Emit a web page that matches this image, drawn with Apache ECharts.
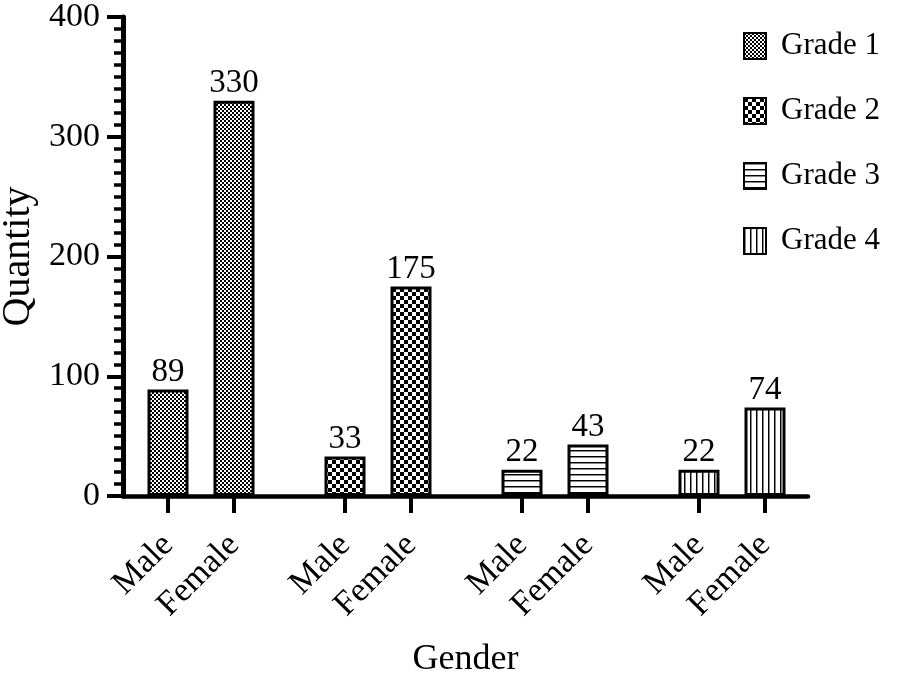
<!DOCTYPE html>
<html>
<head>
<meta charset="utf-8">
<script src="https://cdn.jsdelivr.net/npm/echarts@6/dist/echarts.min.js"></script>
<style>html,body{margin:0;padding:0;background:#fff;}#c{width:898px;height:682px;}</style>
</head>
<body>
<div id="c"></div>
<script>
const categories = ['Male', 'Female'];
const grades = ['Grade 1', 'Grade 2', 'Grade 3', 'Grade 4'];
const maleValues = [89, 33, 22, 22];
const femaleValues = [330, 175, 43, 74];
const yTicks = [0, 100, 200, 300, 400];

const FONT = '"Liberation Serif", "Times New Roman", serif';

function makePattern(type) {
  const c = document.createElement('canvas');
  let ctx;
  if (type === 0) {
    c.width = 4; c.height = 4; ctx = c.getContext('2d');
    ctx.fillStyle = '#fff'; ctx.fillRect(0, 0, 4, 4);
    ctx.fillStyle = '#000'; ctx.fillRect(0, 0, 2, 2); ctx.fillRect(2, 2, 2, 2);
  } else if (type === 1) {
    c.width = 8; c.height = 8; ctx = c.getContext('2d');
    ctx.fillStyle = '#fff'; ctx.fillRect(0, 0, 8, 8);
    ctx.fillStyle = '#000'; ctx.fillRect(0, 0, 4, 4); ctx.fillRect(4, 4, 4, 4);
  } else if (type === 2) {
    c.width = 6; c.height = 6; ctx = c.getContext('2d');
    ctx.fillStyle = '#fff'; ctx.fillRect(0, 0, 6, 6);
    ctx.fillStyle = '#000'; ctx.fillRect(0, 0, 6, 1);
    ctx.fillStyle = '#888'; ctx.fillRect(0, 1, 6, 1);
  } else {
    c.width = 6; c.height = 6; ctx = c.getContext('2d');
    ctx.fillStyle = '#fff'; ctx.fillRect(0, 0, 6, 6);
    ctx.fillStyle = '#000'; ctx.fillRect(0, 0, 1, 6);
    ctx.fillStyle = '#888'; ctx.fillRect(1, 0, 1, 6);
  }
  return { image: c, repeat: 'repeat' };
}

const TOP = 17, BOTTOM = 186;
const grids = [{ left: 123, right: 90, top: TOP, bottom: BOTTOM, outerBoundsMode: 'none', containLabel: false }];
const xAxes = [{
  gridIndex: 0, type: 'value', min: 0, max: 1,
  axisLine: { show: true, lineStyle: { color: '#000', width: 4.5 } },
  axisTick: { show: false }, axisLabel: { show: false }, splitLine: { show: false },
  name: 'Gender', nameLocation: 'middle', nameGap: 146,
  nameTextStyle: { fontFamily: FONT, fontSize: 36, color: '#000' }
}];
const yAxes = [{
  gridIndex: 0, type: 'value', min: 0, max: 400, interval: 100,
  axisLine: { show: true, lineStyle: { color: '#000', width: 5 } },
  axisTick: { show: true, length: 16, lineStyle: { color: '#000', width: 4 } },
  minorTick: { show: true, splitNumber: 10, length: 9, lineStyle: { color: '#000', width: 3.5 } },
  splitLine: { show: false },
  axisLabel: { margin: 23, fontFamily: FONT, fontSize: 34, color: '#000',
    formatter: v => (yTicks.indexOf(v) >= 0 ? String(v) : '') },
  name: 'Quantity', nameLocation: 'middle', nameGap: 74, nameRotate: 90,
  nameTextStyle: { fontFamily: FONT, fontSize: 40, color: '#000' }
}];
const series = [];
grades.forEach((g, i) => {
  grids.push({ left: 135 + 177 * i, width: 132, top: TOP, bottom: BOTTOM, outerBoundsMode: 'none', containLabel: false });
  xAxes.push({
    gridIndex: i + 1, type: 'category', data: categories,
    axisLine: { show: false },
    axisTick: { show: true, alignWithLabel: true, length: 17, lineStyle: { color: '#000', width: 4 } },
    axisLabel: { rotate: 45, margin: 44, fontFamily: FONT, fontSize: 34, color: '#000', interval: 0 }
  });
  yAxes.push({ gridIndex: i + 1, type: 'value', min: 0, max: 400, show: false });
  series.push({
    name: g, type: 'bar', xAxisIndex: i + 1, yAxisIndex: i + 1,
    data: [maleValues[i], femaleValues[i]],
    barWidth: 41,
    itemStyle: { color: makePattern(i), borderColor: '#000', borderWidth: 3 },
    label: { show: true, position: 'top', distance: 1, fontFamily: FONT, fontSize: 33, color: '#000' }
  });
});

const chart = echarts.init(document.getElementById('c'));
chart.setOption({
  animation: false,
  backgroundColor: '#fff',
  grid: grids, xAxis: xAxes, yAxis: yAxes, series: series,
  legend: {
    orient: 'vertical', left: 738, top: 25,
    itemWidth: 22, itemHeight: 26, itemGap: 33, icon: 'rect',
    textStyle: { fontFamily: FONT, fontSize: 31, color: '#000', lineHeight: 32, padding: [0, 0, 0, 10] },
    data: grades
  }
});
</script>
</body>
</html>
